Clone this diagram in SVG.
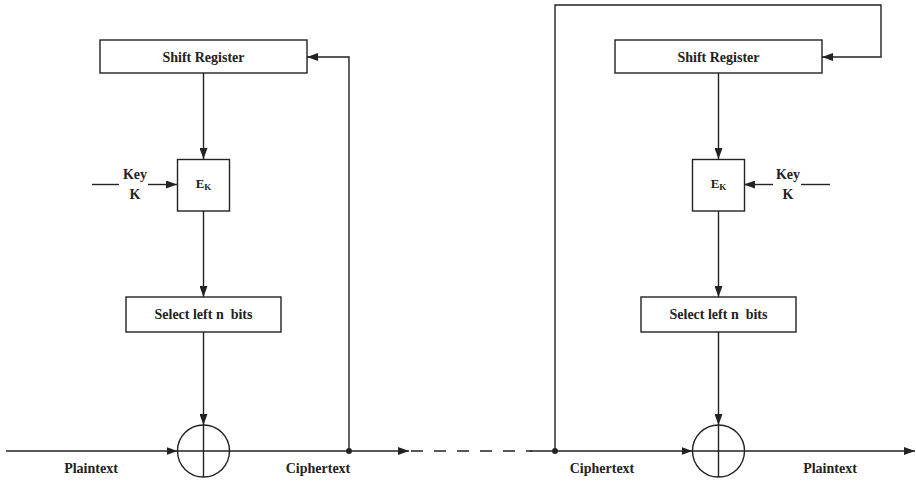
<svg xmlns="http://www.w3.org/2000/svg" width="916" height="481" viewBox="0 0 916 481">
<style>
.box{fill:#fff;stroke:#222;stroke-width:1.4}
.ln{fill:none;stroke:#222;stroke-width:1.4}
.arr{marker-end:url(#ah)}
.t{font-family:"Liberation Serif","Times New Roman",serif;font-weight:bold;font-size:14px;fill:#222;text-anchor:middle}
.ek{font-size:13px}
.sub{font-size:9px}
</style>
<defs>
<marker id="ah" markerUnits="userSpaceOnUse" markerWidth="11" markerHeight="8" refX="11" refY="4" orient="auto">
<path d="M0,0 L11,4 L0,8 z" fill="#222"/>
</marker>
</defs>
<rect width="916" height="481" fill="#fff"/>
<g id="connectors">
<line class="ln arr" x1="203.5" y1="73" x2="203.5" y2="159"/>
<line class="ln arr" x1="203.5" y1="211" x2="203.5" y2="297"/>
<line class="ln arr" x1="203.5" y1="332" x2="203.5" y2="425"/>
<line class="ln" x1="92" y1="184.5" x2="119" y2="184.5"/>
<line class="ln arr" x1="148" y1="184.5" x2="177" y2="184.5"/>
<line class="ln arr" x1="6" y1="451" x2="177.5" y2="451"/>
<line class="ln arr" x1="229.5" y1="451" x2="409" y2="451"/>
<polyline class="ln arr" points="349,451 349,57 307,57"/>
<line class="ln" x1="410" y1="451" x2="532" y2="451" stroke-dasharray="12,11" stroke-dashoffset="-1"/>
<line class="ln arr" x1="530" y1="451" x2="692.5" y2="451"/>
<polyline class="ln arr" points="555,451 555,5 881,5 881,57 822,57"/>
<line class="ln arr" x1="718.5" y1="73" x2="718.5" y2="159"/>
<line class="ln arr" x1="718.5" y1="211" x2="718.5" y2="297"/>
<line class="ln arr" x1="718.5" y1="332" x2="718.5" y2="425"/>
<line class="ln" x1="801" y1="184.5" x2="830" y2="184.5"/>
<line class="ln arr" x1="773" y1="184.5" x2="744" y2="184.5"/>
<line class="ln arr" x1="744.5" y1="451" x2="915" y2="451"/>
<circle cx="349" cy="451" r="3" fill="#222"/>
<circle cx="555" cy="451" r="3" fill="#222"/>
</g>
<g id="sr1"><rect class="box" x="100" y="40" width="207" height="33"/><text class="t" x="203.5" y="61.5">Shift Register</text></g>
<g id="ek1"><rect class="box" x="177.5" y="159.5" width="52" height="51.5"/><text class="t ek" x="203.5" y="188">E<tspan class="sub" dy="1.5">K</tspan></text></g>
<g id="key1"><text class="t" x="135" y="179">Key</text><text class="t" x="135" y="199">K</text></g>
<g id="sel1"><rect class="box" x="126" y="297" width="155" height="35"/><text class="t" x="203.5" y="318.5" xml:space="preserve">Select left n  bits</text></g>
<g id="xor1"><circle class="ln" cx="203.5" cy="451" r="26"/><line class="ln" x1="203.5" y1="425" x2="203.5" y2="477"/><line class="ln" x1="177.5" y1="451" x2="229.5" y2="451"/></g>
<g id="lbl1"><text class="t" x="91" y="473">Plaintext</text><text class="t" x="318" y="473">Ciphertext</text></g>
<g id="sr2"><rect class="box" x="615" y="40" width="207" height="33"/><text class="t" x="718.5" y="61.5">Shift Register</text></g>
<g id="ek2"><rect class="box" x="692.5" y="159.5" width="52" height="51.5"/><text class="t ek" x="718.5" y="188">E<tspan class="sub" dy="1.5">K</tspan></text></g>
<g id="key2"><text class="t" x="788" y="179">Key</text><text class="t" x="788" y="199">K</text></g>
<g id="sel2"><rect class="box" x="641" y="297" width="155" height="35"/><text class="t" x="718.5" y="318.5" xml:space="preserve">Select left n  bits</text></g>
<g id="xor2"><circle class="ln" cx="718.5" cy="451" r="26"/><line class="ln" x1="718.5" y1="425" x2="718.5" y2="477"/><line class="ln" x1="692.5" y1="451" x2="744.5" y2="451"/></g>
<g id="lbl2"><text class="t" x="602" y="473">Ciphertext</text><text class="t" x="830" y="473">Plaintext</text></g>
</svg>
